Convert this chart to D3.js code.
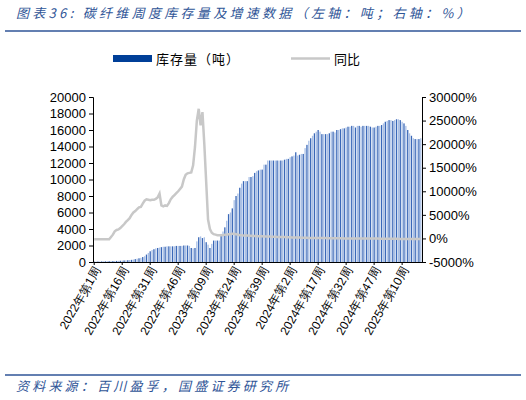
<!DOCTYPE html>
<html>
<head>
<meta charset="utf-8">
<script src="https://d3js.org/d3.v7.min.js"></script>
<style>
  body { margin: 0; background: #fff; font-family: "Noto Sans CJK SC", "Liberation Sans", sans-serif; }
</style>
</head>
<body>
<svg id="chart" width="526" height="400"></svg>
<script>
// weekly inventory (tons), 2022W1 .. 2025W20
const stock = [
  50,50,60,60,70,80,80,90,100,100,110,
  120,130,140,150,170,190,200,220,240,260,
  300,350,400,450,500,600,700,900,
  1100,1300,1450,1550,1650,1700,1750,1800,
  1850,1850,1900,1900,1900,1900,1900,1950,1950,1950,1950,2000,2000,2000,1950,1700,
  1650,1700,
  2500,3000,3100,2900,
  3000,
  2400,2100,1700,
  2200,
  2600,2600,2600,2600,
  3400,3700,4200,5000,5800,6000,6500,7500,8000,8300,9000,9500,9800,
  9800,9800,10300,10300,10400,10800,11000,
  11100,11200,11200,11800,
  11800,12300,12300,12300,12300,12300,12300,12300,12300,
  12300,12400,12500,12500,12700,12800,12900,13300,
  12900,13000,13100,13100,13800,
  14200,14700,15000,15300,15600,15800,16000,15800,15500,
  15500,15500,15500,15600,15800,15800,15700,16000,
  16000,16100,16200,16200,16300,16400,16400,16500,16500,16300,
  16500,16500,16400,16500,16500,16500,16500,16400,16300,16300,16400,16500,16500,16600,16800,17000,
  17100,17200,17200,17100,17200,17300,17300,17200,17000,16800,
  16500,16000,15600,15300,15000,14900,14900,14900,15000
];
// year-on-year (%)
const yoy = [
  -200,-200,-200,-200,-200,-200,-200,-200,-200,
  300,800,1500,1800,
  1900,2200,2600,3000,3500,3900,
  4300,5000,5500,5800,
  6200,6600,6700,7400,8000,8300,
  8200,8100,8200,8200,8400,8700,9500,
  7000,6800,
  7000,6900,7500,8300,8800,
  9200,9600,10000,10500,11000,
  12500,13500,13800,
  13900,14000,15500,
  19400,25000,27500,24000,26800,20000,12000,4000,2000,1200,900,
  800,700,700,700,
  700,800,800,900,900,1000,1000,900,800,700,700,600,
  600,600,550,550,500,500,500,450,450,450,400,400,400,400,350,350,350,300,300,300,
  300,300,250,250,250,200,200,200,200,200,150,150,150,150,100,100,100,100,100,100,
  100,100,100,100,50,50,50,50,50,50,
  50,50,50,0,0,0,0,0,0,0,0,0,0,0,0,0,0,0,0,0,
  0,0,-50,-50,-50,-50,-50,-50,-50,-50,-50,-50,-100,-100,-100,-100,-100,-100,-100,-100,
  -100,-100,-100,-100,-100
];
const years = [2022, 2023, 2024, 2025];
const weeksPerYear = [52, 52, 52, 20];
const leftTicks = d3.range(0, 20001, 2000);
const rightTicks = d3.range(-5000, 30001, 5000);

const labels = [];
years.forEach((y, k) => {
  for (let w = 1; w <= weeksPerYear[k]; w++) {
    const ww = (y === 2023 && w < 10) ? "0" + w : "" + w;
    labels.push(y + "年第" + ww + "周");
  }
});
const n = Math.min(stock.length, yoy.length, labels.length);
const data = d3.range(n).map(i => ({ label: labels[i], stock: stock[i], yoy: yoy[i], i: i }));

const svg = d3.select("#chart");
const plotL = 93, plotR = 422, plotT = 97, plotB = 262;

// header
svg.append("text").attr("x", 16).attr("y", 18)
  .attr("fill", "#2f5597").attr("font-size", 13).attr("font-style", "italic")
  .attr("letter-spacing", 3.3)
  .text("图表36: 碳纤维周度库存量及增速数据（左轴：吨；右轴：%）");
svg.append("line").attr("x1", 5).attr("x2", 521).attr("y1", 31).attr("y2", 31)
  .attr("stroke", "#2f5597").attr("stroke-width", 1.5);

// legend
svg.append("rect").attr("x", 113).attr("y", 55).attr("width", 39).attr("height", 7).attr("fill", "#003f98");
svg.append("text").attr("x", 156).attr("y", 64).attr("font-size", 13).attr("letter-spacing", 1).text("库存量（吨）");
svg.append("line").attr("x1", 291).attr("x2", 330).attr("y1", 58.5).attr("y2", 58.5)
  .attr("stroke", "#c8c8c8").attr("stroke-width", 2.5);
svg.append("text").attr("x", 334).attr("y", 64).attr("font-size", 13).text("同比");

const x = d3.scaleBand().domain(data.map(d => d.i)).range([plotL, plotR]).padding(0.3);
const yL = d3.scaleLinear().domain([0, 20000]).range([plotB, plotT]);
const yR = d3.scaleLinear().domain([-5000, 30000]).range([plotB, plotT]);

svg.append("g").selectAll("rect").data(data).join("rect")
  .attr("x", d => x(d.i)).attr("width", x.bandwidth())
  .attr("y", d => yL(d.stock)).attr("height", d => yL(0) - yL(d.stock))
  .attr("fill", d => d.i % 2 ? "#a9c0e6" : "#3a68b8");

svg.append("path").datum(data)
  .attr("fill", "none").attr("stroke", "#c8c8c8").attr("stroke-width", 2.5)
  .attr("d", d3.line().x(d => x(d.i) + x.bandwidth() / 2).y(d => yR(d.yoy)));

const gL = svg.append("g").attr("transform", `translate(${plotL},0)`)
  .call(d3.axisLeft(yL).tickValues(leftTicks).tickSize(4).tickFormat(d3.format("d")));
const gR = svg.append("g").attr("transform", `translate(${plotR},0)`)
  .call(d3.axisRight(yR).tickValues(rightTicks).tickSize(4).tickFormat(d => d + "%"));
[gL, gR].forEach(g => {
  g.select(".domain").attr("stroke", "#000");
  g.selectAll("text").attr("font-size", 13).attr("fill", "#000")
    .attr("font-family", "Liberation Sans, Arial, sans-serif");
});

const tickIdx = d3.range(0, n, 15);
const gX = svg.append("g").attr("transform", `translate(0,${plotB})`)
  .call(d3.axisBottom(x).tickValues(tickIdx).tickSize(3).tickSizeOuter(0).tickFormat(i => labels[i]));
gX.select(".domain").attr("stroke", "#000");
gX.selectAll("text").attr("font-size", 12).attr("fill", "#000")
  .attr("text-anchor", "end").attr("transform", "translate(3,6) rotate(-60)")
  .attr("dx", 0).attr("dy", "0.35em").attr("y", 0).attr("x", 0);

// footer
svg.append("line").attr("x1", 5).attr("x2", 521).attr("y1", 375).attr("y2", 375)
  .attr("stroke", "#2f5597").attr("stroke-width", 1.5);
svg.append("text").attr("x", 16).attr("y", 391)
  .attr("fill", "#2f5597").attr("font-size", 13).attr("font-style", "italic")
  .attr("letter-spacing", 3.2)
  .text("资料来源：百川盈孚，国盛证券研究所");
</script>
</body>
</html>
